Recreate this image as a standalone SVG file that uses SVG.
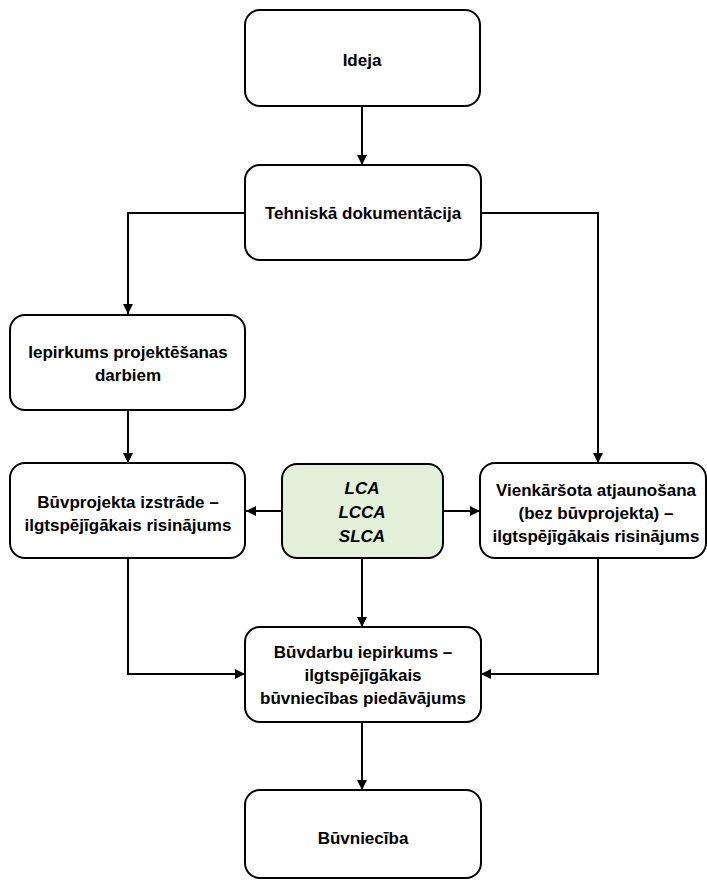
<svg xmlns="http://www.w3.org/2000/svg" width="707" height="880" viewBox="0 0 707 880">
  <defs>
    <marker id="arrow" viewBox="0 0 10 10" refX="10" refY="5" markerWidth="10" markerHeight="10" markerUnits="userSpaceOnUse" orient="auto">
      <path d="M0,0 L10,5 L0,10 z" fill="#000"/>
    </marker>
    <style>
      .box { fill: #fff; stroke: #000; stroke-width: 2; }
      .green { fill: #e2efd9; }
      .lbl { font-family: "Liberation Sans", Arial, sans-serif; font-weight: bold; font-size: 17px; fill: #000; text-anchor: middle; }
      .it { font-style: italic; }
      .conn { fill: none; stroke: #000; stroke-width: 2; marker-end: url(#arrow); }
    </style>
  </defs>
  <rect width="707" height="880" fill="#fff"/>

  <g id="connectors">
    <path class="conn" d="M362,106 L362,165"/>
    <path class="conn" d="M245,213 L128,213 L128,314"/>
    <path class="conn" d="M481,213 L598,213 L598,463"/>
    <path class="conn" d="M128,410 L128,463"/>
    <path class="conn" d="M282,511 L246,511"/>
    <path class="conn" d="M443,511 L480,511"/>
    <path class="conn" d="M362,558 L362,627"/>
    <path class="conn" d="M128,558 L128,674 L245,674"/>
    <path class="conn" d="M598,558 L598,674 L481,674"/>
    <path class="conn" d="M362,722 L362,790"/>
  </g>

  <g id="ideja">
    <rect class="box" x="245" y="10" width="235" height="96" rx="15"/>
    <text class="lbl" x="362" y="66">Ideja</text>
  </g>

  <g id="tehniska-dokumentacija">
    <rect class="box" x="245" y="165" width="236" height="95" rx="15"/>
    <text class="lbl" x="363" y="219">Tehniskā dokumentācija</text>
  </g>

  <g id="iepirkums-projektesanas">
    <rect class="box" x="10" y="315" width="235" height="95" rx="15"/>
    <text class="lbl" x="128" y="358">Iepirkums projektēšanas</text>
    <text class="lbl" x="128" y="381">darbiem</text>
  </g>

  <g id="buvprojekta-izstrade">
    <rect class="box" x="10" y="463" width="235" height="95" rx="15"/>
    <text class="lbl" x="128" y="508">Būvprojekta izstrāde –</text>
    <text class="lbl" x="128" y="531">ilgtspējīgākais risinājums</text>
  </g>

  <g id="lca-lcca-slca">
    <rect class="box green" x="282" y="464" width="161" height="94" rx="15"/>
    <text class="lbl it" x="362" y="494">LCA</text>
    <text class="lbl it" x="362" y="518">LCCA</text>
    <text class="lbl it" x="362" y="542">SLCA</text>
  </g>

  <g id="vienkarsota-atjaunosana">
    <rect class="box" x="480" y="463" width="226" height="95" rx="15"/>
    <text class="lbl" x="596" y="496">Vienkāršota atjaunošana</text>
    <text class="lbl" x="596" y="519">(bez būvprojekta) –</text>
    <text class="lbl" x="596" y="542">ilgtspējīgākais risinājums</text>
  </g>

  <g id="buvdarbu-iepirkums">
    <rect class="box" x="245" y="627" width="236" height="95" rx="15"/>
    <text class="lbl" x="363" y="658">Būvdarbu iepirkums –</text>
    <text class="lbl" x="363" y="681">ilgtspējīgākais</text>
    <text class="lbl" x="363" y="704">būvniecības piedāvājums</text>
  </g>

  <g id="buvnieciba">
    <rect class="box" x="245" y="790" width="236" height="88" rx="15"/>
    <text class="lbl" x="363" y="844">Būvniecība</text>
  </g>
</svg>
